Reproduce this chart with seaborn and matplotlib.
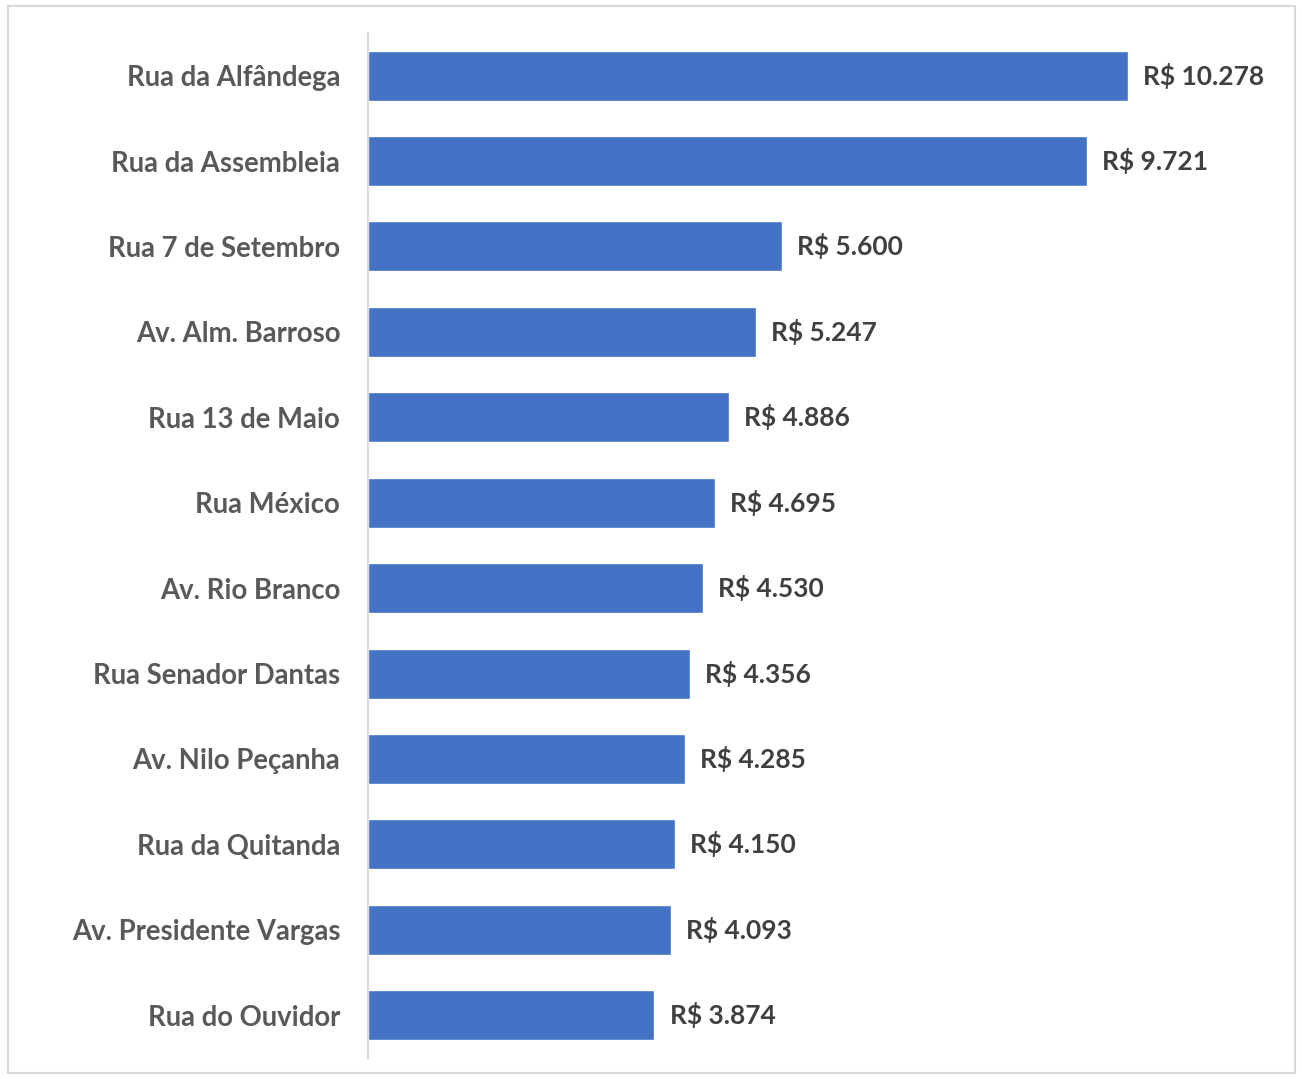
import matplotlib
matplotlib.use("Agg")
import matplotlib.pyplot as plt
import seaborn as sns
import pandas as pd
from matplotlib.patches import Rectangle

# ── Data ──────────────────────────────────────────────────────
ruas = ["Rua da Alfândega", "Rua da Assembleia", "Rua 7 de Setembro",
        "Av. Alm. Barroso", "Rua 13 de Maio", "Rua México", "Av. Rio Branco",
        "Rua Senador Dantas", "Av. Nilo Peçanha", "Rua da Quitanda",
        "Av. Presidente Vargas", "Rua do Ouvidor"]
valores = [10278, 9721, 5600, 5247, 4886, 4695, 4530, 4356, 4285, 4150, 4093, 3874]

df = pd.DataFrame({"rua": ruas, "valor": valores})

def fmt_brl(v):
    return "R$ " + f"{v:,}".replace(",", ".")

# ── Plot ──────────────────────────────────────────────────────
sns.set_style("white")
plt.rcParams["font.family"] = ["Lato", "DejaVu Sans"]

fig = plt.figure(figsize=(13.02, 10.79), dpi=100)
ax = fig.add_axes([0.2826, 0.0195, 0.708, 0.950])

sns.barplot(data=df, x="valor", y="rua", color="#4472C4", saturation=1,
            width=0.585, orient="h", ax=ax)

ax.set_xlim(0, 12468)
ax.set_ylim(11.5, -0.5)
ax.set_xlabel("")
ax.set_ylabel("")
ax.set_xticks([])
ax.tick_params(axis="y", length=0, pad=20, labelsize=19.8, labelcolor="#595959")
for lbl in ax.get_yticklabels():
    lbl.set_fontweight("bold")

for s in ["top", "right", "bottom"]:
    ax.spines[s].set_visible(False)
ax.spines["left"].set_color("#d9d9d9")
ax.spines["left"].set_linewidth(1.5)

for i, v in enumerate(valores):
    ax.annotate(fmt_brl(v), xy=(v, i), xytext=(11, 0), textcoords="offset points",
                ha="left", va="center", fontsize=19, fontweight="bold", color="#404040")

# outer border like the Excel chart area
fig.patches.append(Rectangle((0.006, 0.006), 0.989, 0.988, transform=fig.transFigure,
                             fill=False, edgecolor="#d9d9d9", linewidth=1.5))

fig.savefig("out.png", dpi=100)
